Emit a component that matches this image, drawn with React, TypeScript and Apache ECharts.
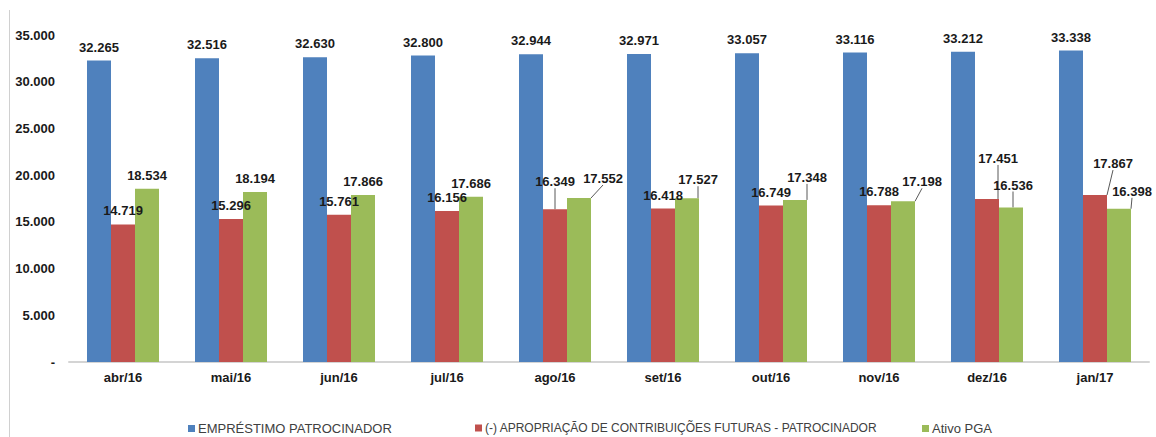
import React, { useEffect, useRef } from "react";
import * as echarts from "echarts";

const categories = ["abr/16", "mai/16", "jun/16", "jul/16", "ago/16", "set/16", "out/16", "nov/16", "dez/16", "jan/17"];
const emprestimo = [32265, 32516, 32630, 32800, 32944, 32971, 33057, 33116, 33212, 33338];
const apropriacao = [14719, 15296, 15761, 16156, 16349, 16418, 16749, 16788, 17451, 17867];
const ativoPGA = [18534, 18194, 17866, 17686, 17552, 17527, 17348, 17198, 16536, 16398];
const seriesNames = [
  "EMPRÉSTIMO PATROCINADOR",
  "(-) APROPRIAÇÃO DE CONTRIBUIÇÕES FUTURAS - PATROCINADOR",
  "Ativo PGA",
];
const yMin = 0;
const yMax = 35000;
const yInterval = 5000;

// label displacement (dx, dy) for labels that Excel moved with a leader line
const redMoves: Record<number, [number, number]> = { 4: [0, -14], 8: [11, -27], 9: [18, -18] };
const greenMoves: Record<number, [number, number]> = {
  4: [24, -6], 5: [11, -5], 6: [12, -9], 7: [19, -6], 8: [2, -9], 9: [13, -4],
};

const FONT = "'Liberation Sans', Arial, sans-serif";

const fmt = (v: number) => {
  if (v === 0) return "-";
  return Math.round(v).toString().replace(/\B(?=(\d{3})+(?!\d))/g, ".");
};

export default function App() {
  const ref = useRef<HTMLDivElement>(null);
  useEffect(() => {
    document.body.style.margin = "0";
    const chart = echarts.init(ref.current!, undefined, { renderer: "svg" });
    const labelBase = {
      show: true,
      position: "top" as const,
      distance: 7,
      fontFamily: FONT,
      fontSize: 13,
      fontWeight: "bold" as const,
      color: "#1a1a1a",
      formatter: (p: any) => fmt(p.value),
    };
    const withLines = (vals: number[], moves: Record<number, [number, number]>) =>
      vals.map((v, i) => (moves[i] ? { value: v, labelLine: { show: true } } : v));
    const layoutFor = (moves: Record<number, [number, number]>) => (p: any) => {
      const m = moves[p.dataIndex];
      return m ? { dx: m[0], dy: m[1] } : {};
    };
    const labelLine = { show: false, lineStyle: { color: "#595959", width: 1 } };
    const legendCommon = {
      top: 417,
      icon: "rect",
      itemWidth: 7,
      itemHeight: 7,
      itemGap: 0,
      padding: 5,
    };
    const legendText = (size: number) => ({
      fontFamily: FONT,
      fontSize: size,
      color: "#404040",
      padding: [0, 0, 0, -2],
    });
    chart.setOption({
      animation: false,
      backgroundColor: "#ffffff",
      color: ["#4F81BD", "#C0504D", "#9BBB59"],
      grid: { left: 69, right: 7, top: 35, bottom: 75, containLabel: false },
      legend: [
        { ...legendCommon, left: 183, data: [seriesNames[0]], textStyle: legendText(13) },
        { ...legendCommon, left: 470, data: [seriesNames[1]], textStyle: legendText(12) },
        { ...legendCommon, left: 917, data: [seriesNames[2]], textStyle: legendText(13) },
      ],
      graphic: [
        {
          type: "line",
          shape: { x1: 9.5, y1: 10, x2: 9.5, y2: 437 },
          style: { stroke: "#d0d0d0", lineWidth: 1 },
          silent: true,
        },
      ],
      xAxis: {
        type: "category",
        data: categories,
        axisLine: { show: true, lineStyle: { color: "#d4d4d4", width: 2 } },
        axisTick: { show: false },
        axisLabel: {
          margin: 9,
          fontFamily: FONT,
          fontSize: 13,
          fontWeight: "bold",
          color: "#1a1a1a",
        },
      },
      yAxis: {
        type: "value",
        min: yMin,
        max: yMax,
        interval: yInterval,
        axisLine: { show: false },
        axisTick: { show: false },
        splitLine: { show: false },
        axisLabel: {
          margin: 14,
          fontFamily: FONT,
          fontSize: 13,
          fontWeight: "bold",
          color: "#1a1a1a",
          formatter: (v: number) => fmt(v),
        },
      },
      series: [
        {
          name: seriesNames[0],
          type: "bar",
          data: emprestimo,
          barGap: "0%",
          barCategoryGap: "33.33%",
          label: labelBase,
        },
        {
          name: seriesNames[1],
          type: "bar",
          data: withLines(apropriacao, redMoves),
          barGap: "0%",
          barCategoryGap: "33.33%",
          label: labelBase,
          labelLine,
          labelLayout: layoutFor(redMoves),
        },
        {
          name: seriesNames[2],
          type: "bar",
          data: withLines(ativoPGA, greenMoves),
          barGap: "0%",
          barCategoryGap: "33.33%",
          label: labelBase,
          labelLine,
          labelLayout: layoutFor(greenMoves),
        },
      ],
    });
    return () => chart.dispose();
  }, []);
  return (
    <div
      ref={ref}
      style={{ position: "absolute", left: 0, top: 0, width: 1156, height: 437 }}
    />
  );
}
